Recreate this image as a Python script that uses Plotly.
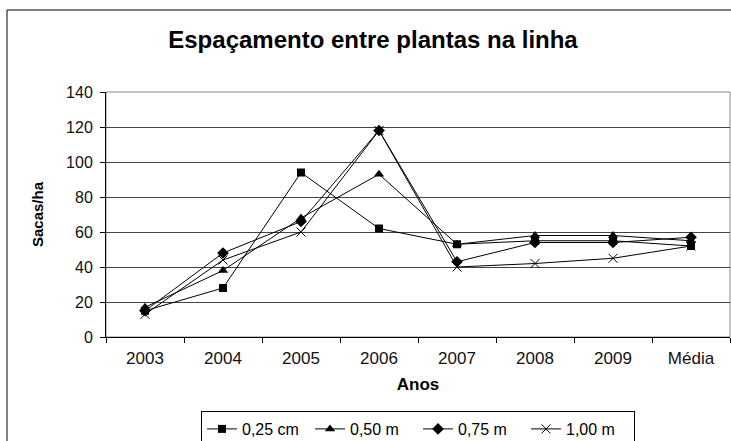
import plotly.graph_objects as go

categories = ["2003", "2004", "2005", "2006", "2007", "2008", "2009", "Média"]
s025 = [15, 28, 94, 62, 53, 55, 55, 52]
s050 = [17, 38, 68, 93, 53, 58, 58, 55]
s075 = [15, 48, 66, 118, 43, 54, 54, 57]
s100 = [13, 44, 60, 118, 40, 42, 45, 52]
names = ["0,25 cm", "0,50 m", "0,75 m", "1,00 m"]
y_ticks = [0, 20, 40, 60, 80, 100, 120, 140]

series = [s025, s050, s075, s100]
symbols = ["square", "triangle-up", "diamond", "x-thin"]
sizes = [8, 9, 9, 9]

fig = go.Figure()
for vals, name, sym, sz in zip(series, names, symbols, sizes):
    marker = dict(symbol=sym, size=sz, color="black")
    if sym == "x-thin":
        marker["line"] = dict(color="black", width=1)
    fig.add_trace(go.Scatter(x=categories, y=vals, name=name, mode="lines+markers",
                             line=dict(color="black", width=1), marker=marker))

font = "Liberation Sans, Arial, sans-serif"
fig.update_layout(
    width=731, height=441,
    margin=dict(l=106, r=1, t=92, b=104, autoexpand=False),
    paper_bgcolor="white", plot_bgcolor="white",
    font=dict(family=font, color="black", size=16),
    title=dict(text="<b>Espaçamento entre plantas na linha</b>", x=373 / 731, xanchor="center",
               y=1 - 40 / 441, yanchor="middle", font=dict(size=24, family=font)),
    showlegend=True,
    legend=dict(orientation="h", x=0.5, xanchor="center", y=(337 - 411) / 245, yanchor="top",
                bordercolor="black", borderwidth=1, font=dict(size=16),
                itemwidth=30, entrywidth=63, entrywidthmode="pixels",
                tracegroupgap=0, bgcolor="white"),
)
fig.update_xaxes(type="category", showgrid=False, showline=True, linecolor="black", linewidth=1,
                 ticks="outside", tickson="boundaries", ticklen=5, tickcolor="black",
                 ticklabelstandoff=6,
                 title=dict(text="<b>Anos</b>", font=dict(size=17), standoff=10),
                 tickfont=dict(size=17, color="#111"), range=[-0.5, 7.5])
fig.update_yaxes(range=[0, 140], tickvals=y_ticks, showgrid=True, gridcolor="#444", gridwidth=1,
                 showline=True, linecolor="black", linewidth=1, ticks="outside", ticklen=5,
                 tickcolor="black", zeroline=False, ticklabelstandoff=4,
                 title=dict(text="<b>Sacas/ha</b>", font=dict(size=15), standoff=18),
                 tickfont=dict(size=16, color="#111"))
# plot area border (gray) and outer chart border
fig.add_shape(type="rect", xref="paper", yref="paper", x0=0, x1=1, y0=0, y1=1,
              line=dict(color="#888", width=1), layer="below")
fig.add_shape(type="rect", xref="paper", yref="paper",
              x0=-99 / 624, x1=1.2, y0=-0.6, y1=(337 - 10) / 245,
              line=dict(color="black", width=1), layer="below")
fig.write_html("out.html", config={"displayModeBar": False},
               post_script="document.body.style.margin='0px';document.body.style.overflow='hidden';")
